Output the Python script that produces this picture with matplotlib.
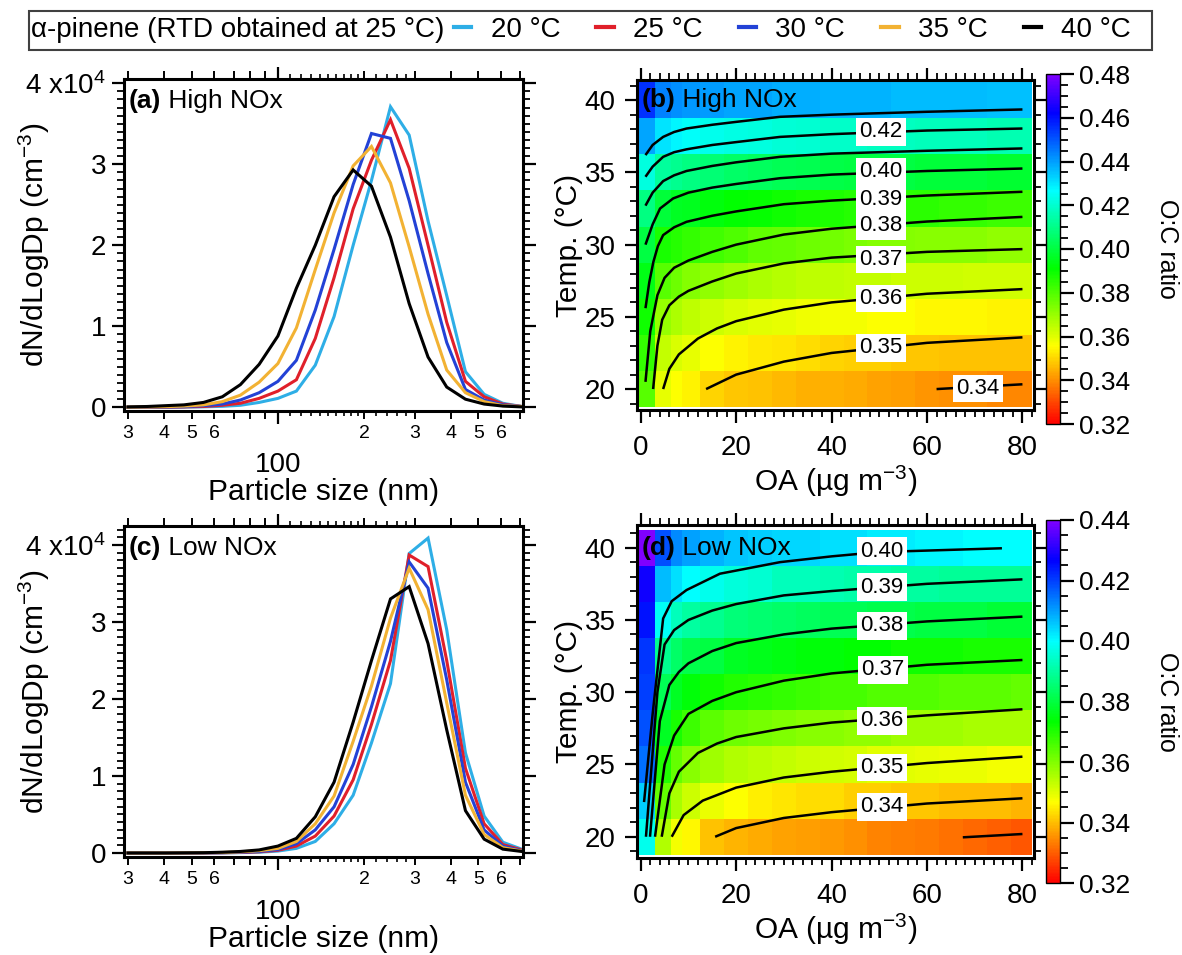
import numpy as np
import matplotlib
matplotlib.use('Agg')
import matplotlib.pyplot as plt
from matplotlib.colors import LinearSegmentedColormap
from matplotlib.lines import Line2D
from matplotlib.patches import Rectangle
from matplotlib.ticker import FixedLocator, FixedFormatter, FuncFormatter, MultipleLocator, NullFormatter, NullLocator

plt.rcParams['font.family'] = ['Liberation Sans', 'DejaVu Sans']
plt.rcParams['mathtext.fontset'] = 'custom'
plt.rcParams['mathtext.rm'] = 'Liberation Sans'
plt.rcParams['mathtext.default'] = 'regular'

# ---------------- size distributions (dN/dlogDp, units of 1e4 cm-3) ----------------
dp_nm = [30, 35, 40.5, 47, 55, 64, 74, 86, 100, 116, 135, 157, 183, 212, 247, 287, 334, 388, 451, 524, 609, 708]
temps = [20, 25, 30, 35, 40]
line_colors = ['#2eaee6', '#e0202a', '#2342d6', '#f2b233', '#000000']

high_20 = [0, 0, 0, 0.003, 0.006, 0.012, 0.025, 0.06, 0.11, 0.2, 0.52, 1.12, 2.0, 2.8, 3.71, 3.36, 2.3, 1.38, 0.44, 0.16, 0.05, 0.01]
high_25 = [0, 0, 0.002, 0.005, 0.01, 0.025, 0.05, 0.11, 0.2, 0.34, 0.85, 1.6, 2.45, 3.05, 3.55, 2.95, 2.0, 1.05, 0.32, 0.13, 0.04, 0.01]
high_30 = [0, 0.002, 0.004, 0.008, 0.02, 0.04, 0.09, 0.18, 0.32, 0.58, 1.2, 1.95, 2.75, 3.38, 3.32, 2.55, 1.65, 0.8, 0.22, 0.09, 0.03, 0.01]
high_35 = [0.002, 0.004, 0.008, 0.015, 0.03, 0.07, 0.15, 0.31, 0.54, 0.98, 1.7, 2.4, 2.98, 3.22, 2.77, 1.98, 1.15, 0.46, 0.18, 0.07, 0.02, 0.01]
high_40 = [0.005, 0.01, 0.02, 0.03, 0.06, 0.13, 0.28, 0.53, 0.88, 1.47, 2.0, 2.6, 2.93, 2.73, 2.1, 1.28, 0.62, 0.25, 0.1, 0.04, 0.015, 0.005]

low_20 = [0, 0, 0, 0, 0, 0.002, 0.005, 0.01, 0.025, 0.06, 0.15, 0.38, 0.75, 1.43, 2.2, 3.89, 4.09, 2.9, 1.3, 0.48, 0.14, 0.05]
low_25 = [0, 0, 0, 0, 0.001, 0.003, 0.007, 0.015, 0.035, 0.09, 0.22, 0.48, 0.95, 1.67, 2.5, 3.87, 3.72, 2.5, 1.1, 0.38, 0.11, 0.04]
low_30 = [0, 0, 0, 0, 0.002, 0.005, 0.01, 0.02, 0.045, 0.12, 0.3, 0.6, 1.15, 1.9, 2.75, 3.78, 3.44, 2.25, 0.92, 0.3, 0.09, 0.03]
low_35 = [0, 0, 0, 0.001, 0.003, 0.007, 0.015, 0.03, 0.06, 0.15, 0.38, 0.74, 1.45, 2.17, 3.05, 3.70, 3.16, 1.95, 0.75, 0.24, 0.07, 0.025]
low_40 = [0, 0, 0, 0.002, 0.004, 0.01, 0.02, 0.04, 0.09, 0.19, 0.47, 0.92, 1.7, 2.5, 3.3, 3.46, 2.72, 1.6, 0.55, 0.18, 0.05, 0.02]

# ---------------- O:C maps ----------------
oa_grid = [1, 5, 7.5, 10, 15, 20, 25, 30, 35, 40, 45, 50, 55, 60, 65, 70, 75, 80]
temp_grid = [20, 22.5, 25, 27.5, 30, 32.5, 35, 37.5, 40]

oc_high = [
    [0.379, 0.359, 0.356, 0.354, 0.350, 0.348, 0.347, 0.346, 0.345, 0.345, 0.344, 0.343, 0.342, 0.341, 0.340, 0.340, 0.339, 0.339],
    [0.384, 0.364, 0.361, 0.359, 0.356, 0.354, 0.353, 0.352, 0.351, 0.350, 0.349, 0.349, 0.348, 0.348, 0.347, 0.347, 0.347, 0.347],
    [0.389, 0.370, 0.367, 0.365, 0.363, 0.361, 0.360, 0.359, 0.358, 0.357, 0.357, 0.356, 0.356, 0.355, 0.355, 0.355, 0.354, 0.354],
    [0.394, 0.379, 0.376, 0.373, 0.371, 0.369, 0.367, 0.366, 0.365, 0.365, 0.364, 0.364, 0.363, 0.363, 0.363, 0.362, 0.362, 0.362],
    [0.400, 0.388, 0.386, 0.384, 0.382, 0.380, 0.378, 0.377, 0.376, 0.375, 0.374, 0.373, 0.373, 0.372, 0.372, 0.372, 0.371, 0.371],
    [0.409, 0.399, 0.396, 0.395, 0.393, 0.391, 0.390, 0.389, 0.388, 0.387, 0.386, 0.386, 0.385, 0.385, 0.384, 0.384, 0.383, 0.383],
    [0.422, 0.413, 0.411, 0.409, 0.407, 0.405, 0.404, 0.403, 0.402, 0.401, 0.400, 0.400, 0.400, 0.399, 0.399, 0.399, 0.398, 0.398],
    [0.439, 0.430, 0.428, 0.426, 0.424, 0.423, 0.422, 0.421, 0.420, 0.419, 0.419, 0.418, 0.418, 0.417, 0.417, 0.417, 0.416, 0.416],
    [0.455, 0.444, 0.442, 0.441, 0.440, 0.439, 0.439, 0.438, 0.438, 0.437, 0.437, 0.437, 0.436, 0.436, 0.436, 0.436, 0.435, 0.435],
]
oc_low = [
    [0.398, 0.355, 0.348, 0.346, 0.3405, 0.339, 0.338, 0.337, 0.3365, 0.336, 0.335, 0.334, 0.3335, 0.333, 0.332, 0.331, 0.330, 0.329],
    [0.405, 0.363, 0.356, 0.352, 0.349, 0.347, 0.345, 0.344, 0.343, 0.343, 0.342, 0.342, 0.341, 0.341, 0.340, 0.340, 0.340, 0.339],
    [0.415, 0.370, 0.363, 0.359, 0.357, 0.355, 0.354, 0.353, 0.352, 0.3515, 0.351, 0.350, 0.350, 0.3495, 0.349, 0.349, 0.348, 0.348],
    [0.418, 0.377, 0.371, 0.367, 0.364, 0.362, 0.361, 0.360, 0.359, 0.359, 0.358, 0.358, 0.357, 0.357, 0.357, 0.356, 0.356, 0.356],
    [0.420, 0.382, 0.377, 0.374, 0.372, 0.370, 0.369, 0.368, 0.367, 0.366, 0.366, 0.365, 0.365, 0.365, 0.364, 0.364, 0.364, 0.363],
    [0.421, 0.388, 0.384, 0.381, 0.380, 0.377, 0.376, 0.375, 0.374, 0.374, 0.373, 0.373, 0.372, 0.372, 0.372, 0.371, 0.371, 0.371],
    [0.425, 0.399, 0.393, 0.390, 0.388, 0.386, 0.385, 0.384, 0.383, 0.382, 0.382, 0.381, 0.381, 0.380, 0.380, 0.380, 0.379, 0.379],
    [0.428, 0.407, 0.403, 0.400, 0.398, 0.396, 0.395, 0.393, 0.393, 0.392, 0.391, 0.391, 0.390, 0.390, 0.389, 0.389, 0.389, 0.389],
    [0.440, 0.418, 0.412, 0.410, 0.408, 0.406, 0.405, 0.404, 0.404, 0.403, 0.403, 0.402, 0.402, 0.401, 0.401, 0.400, 0.400, 0.400],
]

# contour lines: (level, OA points, T points)
high_lines = [
    (0.43, [1, 2.5, 4.7, 7, 9.6, 15, 20, 29.2, 40, 60, 80], [36.2, 36.9, 37.46, 37.8, 38.04, 38.3, 38.5, 38.85, 39.0, 39.2, 39.36]),
    (0.42, [1, 2.5, 4.7, 7, 9.6, 15, 20, 29.2, 40, 60, 80], [34.7, 35.4, 36.08, 36.4, 36.6, 36.9, 37.1, 37.46, 37.65, 37.9, 38.04]),
    (0.41, [1, 2.5, 4.7, 7, 9.6, 15, 20, 29.2, 40, 60, 80], [32.7, 33.6, 34.4, 34.8, 35.1, 35.45, 35.7, 36.08, 36.3, 36.5, 36.66]),
    (0.40, [1, 2.5, 4.05, 6.8, 10, 15, 20, 29.2, 40, 60, 80], [30.0, 31.4, 32.5, 33.2, 33.6, 33.95, 34.2, 34.6, 34.85, 35.1, 35.27]),
    (0.39, [1, 1.8, 2.65, 3.6, 4.7, 7, 9.6, 15, 20, 30, 40, 60, 80], [25.6, 27.4, 28.8, 29.9, 30.66, 31.2, 31.58, 32.0, 32.3, 32.8, 33.05, 33.4, 33.66]),
    (0.38, [1, 2, 3.5, 5, 7, 10, 15, 20, 30, 40, 60, 80], [20.5, 24, 26.5, 27.7, 28.4, 28.9, 29.5, 30.0, 30.7, 31.1, 31.6, 31.92]),
    (0.37, [2.6, 3.5, 4.5, 6, 8, 10, 15, 20, 30, 40, 60, 80], [20, 23, 24.8, 25.8, 26.4, 26.8, 27.45, 28.0, 28.7, 29.1, 29.5, 29.69]),
    (0.36, [4.7, 6, 8, 12, 16, 20, 30, 40, 60, 80], [20, 21.4, 22.4, 23.5, 24.2, 24.7, 25.5, 26.0, 26.6, 26.92]),
    (0.35, [13.7, 20, 30, 40, 60, 80], [20, 21.0, 21.9, 22.5, 23.2, 23.58]),
    (0.34, [62, 80], [20.0, 20.33]),
]
low_lines = [
    (0.40, [0.7, 2.5, 4.7, 6.5, 9.6, 16.6, 29.2, 40, 50, 60, 75.7], [22.4, 28.5, 35.1, 36.3, 37.07, 38.2, 39.0, 39.4, 39.7, 39.8, 39.96]),
    (0.39, [1.1, 3.5, 5, 7, 10, 15, 20, 30, 40, 60, 80], [20, 30, 33.3, 34.3, 35.0, 35.65, 36.1, 36.7, 37.0, 37.5, 37.81]),
    (0.38, [1.95, 4, 6, 8, 10, 15, 20, 30, 40, 60, 80], [20, 28, 30.5, 31.4, 32.0, 32.85, 33.4, 34.0, 34.4, 34.9, 35.23]),
    (0.37, [3.0, 5, 7, 10, 15, 20, 30, 40, 60, 80], [20, 25, 27.0, 28.5, 29.4, 30.0, 30.8, 31.3, 31.9, 32.23]),
    (0.36, [4.4, 6, 8, 12, 16, 20, 30, 40, 60, 80], [20, 23, 24.5, 25.8, 26.45, 26.9, 27.5, 27.9, 28.4, 28.82]),
    (0.35, [6.5, 9, 13, 20, 30, 40, 60, 80], [20, 21.5, 22.5, 23.4, 24.1, 24.5, 25.1, 25.54]),
    (0.34, [15.6, 20, 30, 40, 60, 80], [20, 20.6, 21.3, 21.7, 22.3, 22.66]),
    (0.33, [67.5, 80], [19.96, 20.19]),
]

high_lab_text = ['0.42', '0.40', '0.39', '0.38', '0.37', '0.36', '0.35', '0.34']
high_lab_oa = [50.3, 50.3, 50.3, 50.3, 50.3, 50.3, 50.3, 70.6]
high_lab_t = [37.8, 35.04, 33.15, 31.3, 28.97, 26.28, 22.86, 20.05]
low_lab_text = ['0.40', '0.39', '0.38', '0.37', '0.36', '0.35', '0.34']
low_lab_oa = [50.5, 50.5, 50.5, 50.8, 50.5, 50.5, 50.5]
low_lab_t = [39.77, 37.26, 34.6, 31.54, 28.03, 24.8, 22.08]

high_cticks = [0.32, 0.34, 0.36, 0.38, 0.40, 0.42, 0.44, 0.46, 0.48]
low_cticks = [0.32, 0.34, 0.36, 0.38, 0.40, 0.42, 0.44]

# Igor-like rainbow, red (low) -> purple (high)
cmap = LinearSegmentedColormap.from_list('igor_rainbow', [
    (0.0, '#ff0000'), (0.222, '#ffff00'), (0.444, '#00ff00'),
    (0.667, '#00ffff'), (0.889, '#0000ff'), (1.0, '#8000ff')])

W, H = 1182, 955
fig = plt.figure(figsize=(W / 100, H / 100), dpi=100)


def px_rect(left, top, right, bottom):
    return [left / W, 1 - bottom / H, (right - left) / W, (bottom - top) / H]


def frame(ax, lw=2.2):
    for s in ax.spines.values():
        s.set_linewidth(lw)


def size_panel(ax, series, ylim, tag, name):
    for vals, col in zip(series, line_colors):
        ax.plot(dp_nm, np.array(vals) * 1e4, color=col, lw=2.2, solid_joinstyle='miter')
    ax.set_xscale('log')
    ax.set_xlim(29.05, 716)
    ax.set_ylim(*ylim)
    frame(ax)
    # x ticks, Igor style
    ax.xaxis.set_major_locator(FixedLocator([100]))
    ax.xaxis.set_major_formatter(FixedFormatter(['100']))
    minor = [30, 40, 50, 60, 70, 80, 90, 200, 300, 400, 500, 600, 700]
    minor_lab = ['3', '4', '5', '6', '', '', '', '2', '3', '4', '5', '6', '']
    ax.xaxis.set_minor_locator(FixedLocator(minor))
    ax.xaxis.set_minor_formatter(FixedFormatter(minor_lab))
    ax.tick_params(axis='x', which='major', direction='out', length=9, width=1.6,
                   pad=21, labelsize=20, top=True)
    ax.tick_params(axis='x', which='minor', direction='out', length=6, width=1.4,
                   pad=4, labelsize=14, top=True)
    for side in ('bottom', 'top'):
        sec = ax.secondary_xaxis(side)
        sec.set_xticks([110, 120, 130, 140, 150, 160, 170, 180, 190, 220, 240, 260, 280])
        sec.xaxis.set_major_formatter(NullFormatter())
        sec.xaxis.set_minor_locator(NullLocator())
        sec.tick_params(direction='out', length=3.5, width=1.2)
        sec.spines[side].set_visible(False)
    # y ticks
    ax.yaxis.set_major_locator(FixedLocator([0, 1e4, 2e4, 3e4, 4e4]))
    ax.yaxis.set_minor_locator(MultipleLocator(1000))
    ax.yaxis.set_major_formatter(FuncFormatter(
        lambda v, p: '4 x10$^{4}$' if v > 3.5e4 else '%d' % round(v / 1e4)))
    ax.tick_params(axis='y', which='major', direction='out', length=9, width=1.6,
                   pad=4, labelsize=20, right=True)
    ax.tick_params(axis='y', which='minor', direction='out', length=5, width=1.3, right=True)
    ax.set_xlabel('Particle size (nm)', fontsize=21.5, labelpad=0)
    ax.set_ylabel('dN/dLogDp (cm$^{-3}$)', fontsize=21.5)
    ax.yaxis.set_label_coords(-0.18, 0.5)
    t1 = ax.text(0.0115, 0.935, tag, transform=ax.transAxes, fontsize=19,
                 fontweight='bold', va='center', ha='left')
    ax.annotate(' ' + name, xy=(1, 0.5), xycoords=t1, va='center', ha='left', fontsize=19)


def oc_panel(ax, cax, grid, lines, lab_text, lab_oa, lab_t, cticks, ylim, tag, name):
    oa = np.array(oa_grid)
    oa_edges = np.concatenate([[-0.4], (oa[:-1] + oa[1:]) / 2, [81.9]])
    t = np.array(temp_grid)
    t_edges = np.concatenate([t - 1.25, [t[-1] + 1.25]])
    mesh = ax.pcolormesh(oa_edges, t_edges, np.array(grid), cmap=cmap,
                         vmin=cticks[0], vmax=cticks[-1], shading='flat')
    for lev, xs, ys in lines:
        ax.plot(xs, ys, color='black', lw=1.8, solid_capstyle='butt')
    for txt, x, y in zip(lab_text, lab_oa, lab_t):
        ax.text(x, y, txt, fontsize=16, ha='center', va='center', zorder=5,
                bbox=dict(boxstyle='square,pad=0.15', fc='white', ec='none'))
    ax.set_xlim(-0.84, 82.4)
    ax.set_ylim(*ylim)
    frame(ax)
    ax.xaxis.set_major_locator(FixedLocator([0, 20, 40, 60, 80]))
    ax.xaxis.set_minor_locator(MultipleLocator(2))
    ax.yaxis.set_major_locator(FixedLocator([20, 25, 30, 35, 40]))
    ax.yaxis.set_minor_locator(MultipleLocator(1))
    ax.tick_params(which='major', direction='out', length=9, width=1.6, labelsize=20,
                   top=True, right=True)
    ax.tick_params(which='minor', direction='out', length=5, width=1.3, top=True, right=True)
    ax.tick_params(axis='x', which='major', pad=9)
    ax.tick_params(axis='y', which='major', pad=6)
    ax.set_xlabel('OA (µg m$^{-3}$)', fontsize=21.5, labelpad=2)
    ax.set_ylabel('Temp. (°C)', fontsize=21.5)
    ax.yaxis.set_label_coords(-0.135, 0.5)
    t1 = ax.text(0.15, 40, tag, fontsize=19, fontweight='bold', va='center', ha='left', zorder=6)
    ax.annotate(' ' + name, xy=(1, 0.5), xycoords=t1, va='center', ha='left', fontsize=19, zorder=6)

    cb = fig.colorbar(mesh, cax=cax)
    cb.outline.set_linewidth(1.0)
    cax.yaxis.set_major_locator(FixedLocator(cticks))
    cax.yaxis.set_major_formatter(FuncFormatter(lambda v, p: '%.2f' % v))
    cax.yaxis.set_minor_locator(FixedLocator(np.arange(cticks[0], cticks[-1] + 0.001, 0.005)))
    cax.tick_params(which='major', direction='out', length=10, width=1.6, labelsize=19, pad=4)
    cax.tick_params(which='minor', direction='out', length=6, width=1.3)


ax_a = fig.add_axes(px_rect(124, 79.3, 523, 410.7))
ax_c = fig.add_axes(px_rect(124, 526, 523, 857))
ax_b = fig.add_axes(px_rect(636.7, 80, 1033.9, 410))
ax_d = fig.add_axes(px_rect(636.7, 525, 1033.9, 858))
cax_b = fig.add_axes(px_rect(1046, 74, 1060, 424))
cax_d = fig.add_axes(px_rect(1046, 520, 1060, 883))

size_panel(ax_a, [high_20, high_25, high_30, high_35, high_40], (-420, 40490), '(a)', 'High NOx')
size_panel(ax_c, [low_20, low_25, low_30, low_35, low_40], (-520, 42470), '(c)', 'Low NOx')
oc_panel(ax_b, cax_b, oc_high, high_lines, high_lab_text, high_lab_oa, high_lab_t,
         high_cticks, (18.55, 41.4), '(b)', 'High NOx')
oc_panel(ax_d, cax_d, oc_low, low_lines, low_lab_text, low_lab_oa, low_lab_t,
         low_cticks, (18.53, 41.57), '(d)', 'Low NOx')

fig.text(1167 / W, 1 - 249 / H, 'O:C ratio', rotation=270, fontsize=18, ha='center', va='center')
fig.text(1167 / W, 1 - 702 / H, 'O:C ratio', rotation=270, fontsize=18, ha='center', va='center')

# legend strip across the top
fig.patches.append(Rectangle((28.6 / W, 1 - 50.5 / H), (1152 - 28.6) / W, 39.8 / H,
                             transform=fig.transFigure, fill=False, lw=1.5, ec='#404040'))
fig.text(31 / W, 1 - 30 / H, 'α-pinene (RTD obtained at 25 °C)', fontsize=20, ha='left', va='center')
handles = [Line2D([], [], color=c, lw=3.0) for c in line_colors]
fig.legend(handles, ['%d °C' % t for t in temps], loc='center left',
           bbox_to_anchor=(454 / W, 1 - 30 / H), ncol=5, frameon=False, fontsize=20,
           handlelength=0.62, handletextpad=0.7, columnspacing=1.3,
           borderpad=0, borderaxespad=0)

fig.savefig('out.png', dpi=100)
